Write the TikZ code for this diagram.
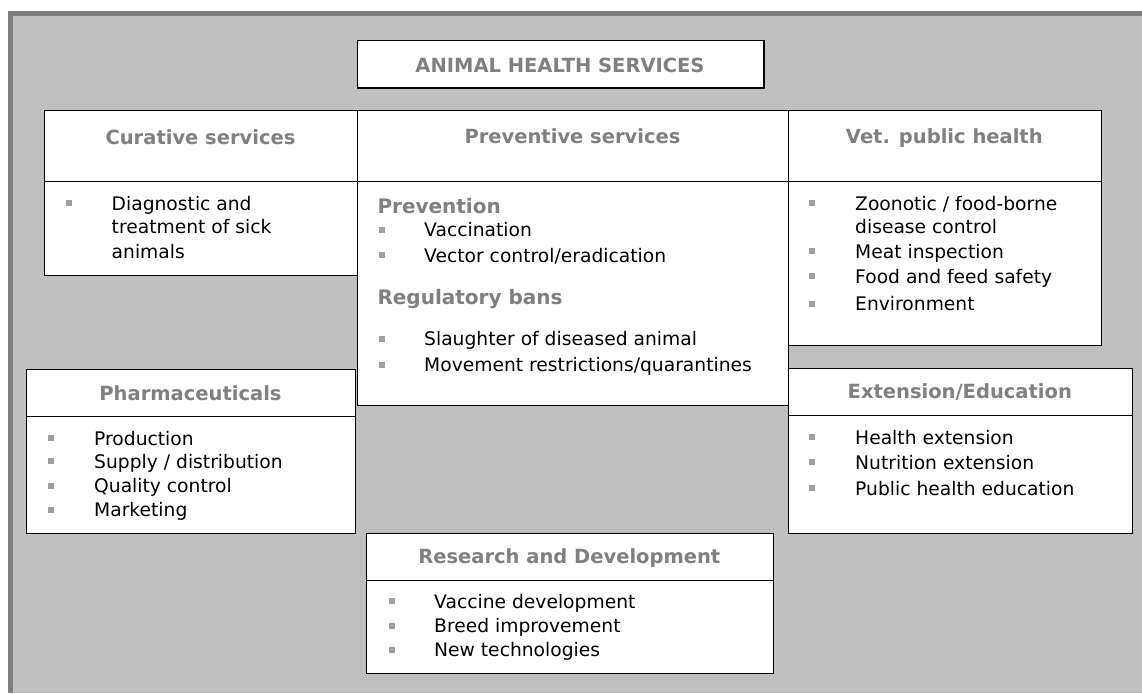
\documentclass[tikz,border=0pt]{standalone}
\usepackage{fontspec}
\setmainfont{DejaVu Sans}
\usetikzlibrary{positioning}
\definecolor{rimgray}{HTML}{808080}
\definecolor{panelgray}{HTML}{C0C0C0}
\definecolor{headgray}{HTML}{808080}
\definecolor{bulgray}{HTML}{A0A0A0}

\begin{document}
\begin{tikzpicture}[
    x=1pt, y=-1pt,
    box/.style={draw=black, line width=1.4pt, fill=white, anchor=north west, inner sep=0pt},
    head/.style={text=headgray, font=\fontsize{19.5}{22}\selectfont\bfseries, anchor=base},
    subhead/.style={text=headgray, font=\fontsize{20}{22}\selectfont\bfseries, anchor=base west, inner sep=0pt},
    entry/.style={font=\fontsize{18.7}{22}\selectfont, anchor=base west, inner sep=0pt},
    bul/.style={fill=bulgray, minimum size=6pt, inner sep=0pt},
]
\useasboundingbox (0,0) rectangle (1142,693);

% grey panel, darker rim on top and left
\fill[panelgray] (8,11) rectangle (1142,693);
\fill[rimgray] (8,11) rectangle (1142,16);
\fill[rimgray] (8,11) rectangle (13,693);

% main title
\node[box, minimum width=406.6pt, minimum height=47.3pt] (ahs) at (356.7,40) {};
\node[head] (ahs-t) at (560,72.3) {ANIMAL HEALTH SERVICES};

% curative services
\node[box, minimum width=313pt, minimum height=71pt] (cur) at (44,110) {};
\node[box, minimum width=313pt, minimum height=94pt] (cur-body) at (44,181) {};
\node[head] (cur-t) at (200.5,144) {Curative services};
\node[bul] (cur-b1) at (68.5,203) {};
\node[entry] (cur-1) at (111.5,210) {Diagnostic and};
\node[entry] (cur-2) at (111.5,233.3) {treatment of sick};
\node[entry] (cur-3) at (111.5,258.3) {animals};

% preventive services
\node[box, minimum width=431pt, minimum height=71pt] (prev) at (357,110) {};
\node[box, minimum width=431pt, minimum height=224pt] (prev-body) at (357,181) {};
\node[head] (prev-t) at (572.5,143.3) {Preventive services};
\node[subhead] (prev-s1) at (377.3,213.3) {Prevention};
\node[subhead] (prev-s2) at (377.3,304) {Regulatory bans};
\foreach \yy/\txt [count=\i] in {236.7/Vaccination, 262/{Vector control/eradication},
    345.7/Slaughter of diseased animal, 371.7/{Movement restrictions/quarantines}} {
  \node[bul] (prev-b\i) at (381.5,\yy-7) {};
  \node[entry] (prev-\i) at (424,\yy) {\txt};
}

% veterinary public health
\node[box, minimum width=312.7pt, minimum height=71pt] (vph) at (788,110) {};
\node[box, minimum width=312.7pt, minimum height=164pt] (vph-body) at (788,181) {};
\node[head] (vph-t) at (944.3,143.3) {Vet. public health};
\foreach \yy/\txt [count=\i] in {210/{Zoonotic / food-borne}, 258.3/Meat inspection,
    283.3/Food and feed safety, 310.7/Environment} {
  \node[bul] (vph-b\i) at (812,\yy-7) {};
  \node[entry] (vph-\i) at (855,\yy) {\txt};
}
\node[entry] (vph-1a) at (855,233.3) {disease control};

% pharmaceuticals
\node[box, minimum width=329pt, minimum height=47pt] (pha) at (26,368.7) {};
\node[box, minimum width=329pt, minimum height=117pt] (pha-body) at (26,415.7) {};
\node[head] (pha-t) at (190.5,400) {Pharmaceuticals};
\foreach \yy/\txt [count=\i] in {445/Production, 468.3/{Supply / distribution},
    492.7/Quality control, 516.7/Marketing} {
  \node[bul] (pha-b\i) at (50.5,\yy-7) {};
  \node[entry] (pha-\i) at (94,\yy) {\txt};
}

% extension / education
\node[box, minimum width=343.7pt, minimum height=47pt] (ext) at (788,368) {};
\node[box, minimum width=343.7pt, minimum height=117.7pt] (ext-body) at (788,415) {};
\node[head] (ext-t) at (959.8,398.3) {Extension/Education};
\foreach \yy/\txt [count=\i] in {444.3/Health extension, 469/Nutrition extension,
    495/Public health education} {
  \node[bul] (ext-b\i) at (812,\yy-7) {};
  \node[entry] (ext-\i) at (855,\yy) {\txt};
}

% research and development
\node[box, minimum width=406.7pt, minimum height=47.3pt] (rnd) at (366,532.7) {};
\node[box, minimum width=406.7pt, minimum height=93pt] (rnd-body) at (366,580) {};
\node[head] (rnd-t) at (569.3,563.3) {Research and Development};
\foreach \yy/\txt [count=\i] in {608.3/Vaccine development, 632.7/Breed improvement,
    656.7/New technologies} {
  \node[bul] (rnd-b\i) at (391.5,\yy-7) {};
  \node[entry] (rnd-\i) at (434,\yy) {\txt};
}

\end{tikzpicture}
\end{document}
